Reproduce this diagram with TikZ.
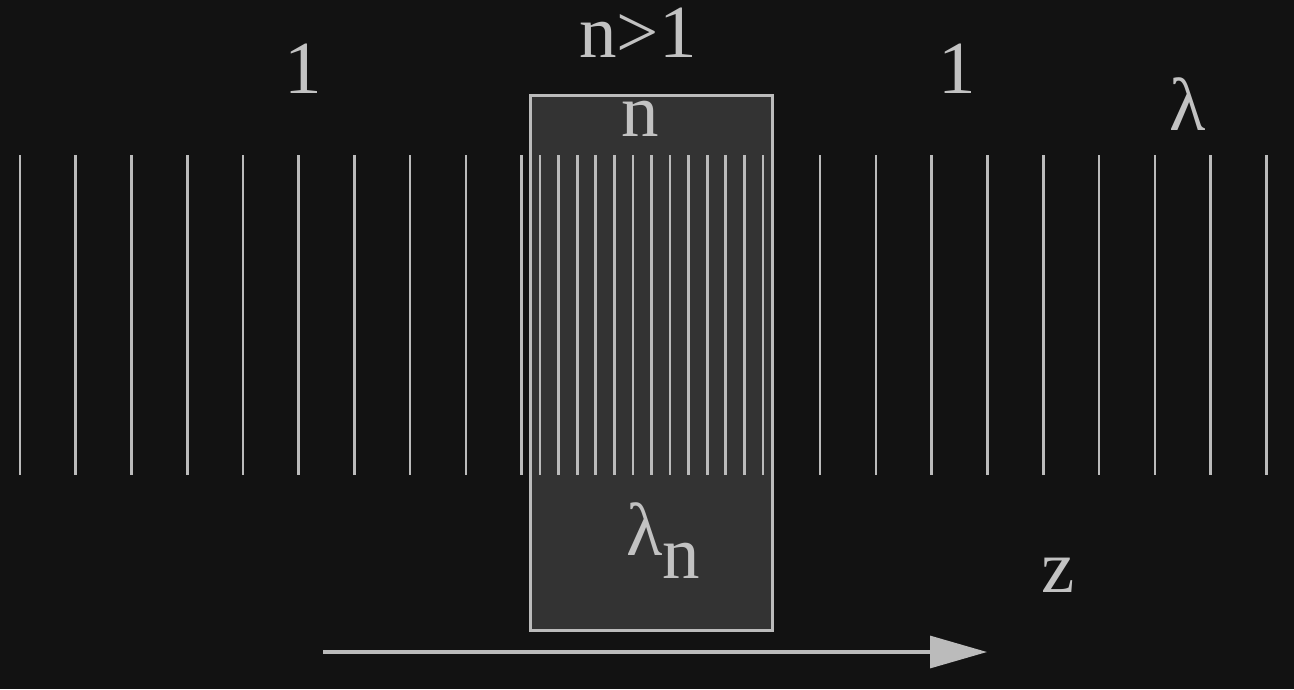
\documentclass[tikz,border=0pt]{standalone}
\usepackage{fontspec}
\setmainfont{Liberation Serif}
\usetikzlibrary{arrows.meta}
\definecolor{bg}{HTML}{121212}
\definecolor{boxfill}{HTML}{333333}
\definecolor{fg}{HTML}{BBBBBB}
\definecolor{txt}{HTML}{C2C2C2}
\begin{document}
\begin{tikzpicture}[x=1pt,y=-1pt,
  wave/.style={draw=fg,line width=2.6pt},
  lbl/.style={text=txt,inner sep=0pt,anchor=base,font=\fontsize{75}{80}\selectfont}]
\fill[bg] (0,0) rectangle (1294,689);
\useasboundingbox (0,0) rectangle (1294,689);
% medium box
\node[draw=fg,fill=boxfill,line width=3pt,minimum width=242pt,minimum height=535pt,inner sep=0pt] (medium) at (651,362.5) {};
% wavefronts
\foreach \x in {20,75.7,131.4,187.2,242.9,298.6,354.3,410.0,465.8,521.5}
  \draw[wave] (\x,155) -- (\x,475);
\foreach \k in {1,...,13}
  \draw[wave] ({521.5+18.57*\k},155) -- ({521.5+18.57*\k},475);
\foreach \x in {820,875.8,931.6,987.4,1043.2,1099,1154.8,1210.6,1266.4}
  \draw[wave] (\x,155) -- (\x,475);
% labels
\node[lbl] (nlabel) at (638,57) {n>1};
\node[lbl] (oneL) at (303,93) {1};
\node[lbl] (oneR) at (957,93) {1};
\node[lbl] (nin) at (640,136) {n};
\node[lbl] (lam) at (1188,130) {λ};
\node[lbl,anchor=base east] (lamn) at (663,555) {λ};
\node[lbl,anchor=base west] (lamnsub) at (662,578) {n};
\node[lbl] (zlabel) at (1058,592) {z};
% z axis arrow
\coordinate (zstart) at (323,652);
\coordinate (zend) at (987,652);
\draw[fg,line width=3.2pt,-{Triangle[length=57pt,width=32pt]}] (zstart) -- (zend);
\end{tikzpicture}
\end{document}
